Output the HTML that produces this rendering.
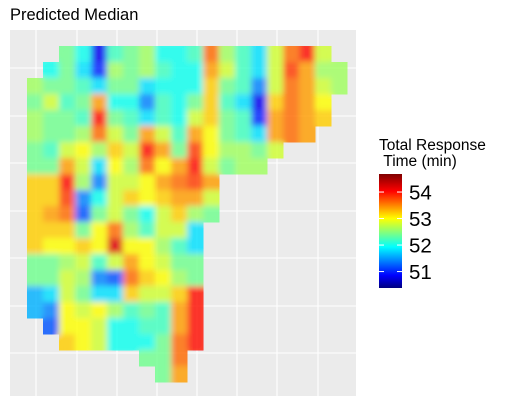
<!DOCTYPE html>
<html><head><meta charset="utf-8"><style>
body{margin:0;background:#fff;}
svg text{font-family:"Liberation Sans",Arial,sans-serif;}
</style></head><body>
<svg id="chart" width="507" height="407" xmlns="http://www.w3.org/2000/svg">
<rect width="507" height="407" fill="#fff"/>
<text x="10" y="20" font-size="16.5" fill="#000">Predicted Median</text>
<rect x="10" y="30" width="346" height="366" fill="#ebebeb"/>
<g id="grid"></g>
<defs>
<linearGradient id="jet" x1="0" y1="1" x2="0" y2="0">
<stop offset="0" stop-color="#00007f"/><stop offset="0.11" stop-color="#0000ff"/><stop offset="0.36" stop-color="#00ffff"/><stop offset="0.485" stop-color="#80ff80"/><stop offset="0.61" stop-color="#ffff00"/><stop offset="0.85" stop-color="#ff0000"/><stop offset="1" stop-color="#7f0000"/>
</linearGradient>
<filter id="smooth" x="-5%" y="-5%" width="110%" height="110%">
<feGaussianBlur stdDeviation="3"/>
<feComponentTransfer><feFuncA type="linear" slope="50" intercept="0"/></feComponentTransfer>
</filter>
<clipPath id="shape"></clipPath>
</defs>
<g clip-path="url(#shape)" opacity="0.82">
<g id="cells" filter="url(#smooth)" shape-rendering="crispEdges"></g>
</g>
<text x="379" y="150" font-size="15.5" fill="#000">Total Response</text>
<text x="379" y="166" font-size="15.5" fill="#000">&#160;Time (min)</text>
<rect x="379" y="174" width="23" height="114" fill="url(#jet)"/>
<g id="legend"></g>
</svg>
<script>
const vmin = 50.38, vmax = 54.68;
const legendTicks = [51, 52, 53, 54];
const gridX = [36, 77, 117, 157, 197, 237, 277, 318];
const gridY = [68, 116, 163, 211, 258, 306, 353];
// value codes: a=50.6, each letter +0.2
const codeBase = 50.6, codeStep = 0.2;
const rowStart = [2,1,0,0,0,0,0,0,0,0,0,0,0,0,0,0,0,1,2,7,8];
const rows = [
 "jhbijkhhipkiglprl",
 "hjgckjkihholiglqokk",
 "kjjigjjghhhnjielpolk",
 "jlijohheihjnigbnpom",
 "kjjirjigihlnjicopon",
 "kjjkpljoliomjigopo",
 "jilmknlrojqmkkjl",
 "jjolgmkpmorljkk",
 "nnrkellmopqo",
 "nnqehlnmnool",
 "nopdjljhlnkj",
 "nnnjmpkillg",
 "nmmnmsmmkig",
 "jjklilomljj",
 "jjlkedpnmkj",
 "fgljggnllnr",
 "femlmkijior",
 "dmmlhhiior",
 "nmlhhhjpr",
 "jjp",
 "jo"
];
const x0 = 27, y0 = 46, cw = 16, ch = 16;
const stops = [[0,[0,0,127]],[0.11,[0,0,255]],[0.36,[0,255,255]],[0.485,[128,255,128]],[0.61,[255,255,0]],[0.85,[255,0,0]],[1,[127,0,0]]];
function jet(v){
  let t = Math.max(0, Math.min(1, (v - vmin) / (vmax - vmin)));
  for (let i = 1; i < stops.length; i++) {
    if (t <= stops[i][0]) {
      const a = stops[i-1], b = stops[i], f = (t - a[0]) / (b[0] - a[0]);
      const c = a[1].map((x, k) => Math.round(x + (b[1][k] - x) * f));
      return `rgb(${c[0]},${c[1]},${c[2]})`;
    }
  }
  return 'rgb(127,0,0)';
}
const ns = 'http://www.w3.org/2000/svg';
const grid = document.getElementById('grid');
gridX.forEach(x => {
  const l = document.createElementNS(ns, 'line');
  l.setAttribute('x1', x); l.setAttribute('x2', x); l.setAttribute('y1', 30); l.setAttribute('y2', 396);
  l.setAttribute('stroke', '#fff'); l.setAttribute('stroke-width', 1.1);
  
  
  grid.appendChild(l);
});
gridY.forEach(y => {
  const l = document.createElementNS(ns, 'line');
  l.setAttribute('y1', y); l.setAttribute('y2', y); l.setAttribute('x1', 10); l.setAttribute('x2', 356);
  l.setAttribute('stroke', '#fff'); l.setAttribute('stroke-width', 1.1);
  
  
  grid.appendChild(l);
});
const cells = document.getElementById('cells');
const clip = document.getElementById('shape');
rows.forEach((row, r) => {
  for (let i = 0; i < row.length; i++) {
    const code = row[i];
    const v = codeBase + (code.charCodeAt(0) - 97) * codeStep;
    const c = rowStart[r] + i;
    const rect = document.createElementNS(ns, 'rect');
    rect.setAttribute('x', x0 + c * cw); rect.setAttribute('y', y0 + r * ch);
    rect.setAttribute('width', cw); rect.setAttribute('height', ch);
    rect.setAttribute('fill', jet(v));
    
    
    cells.appendChild(rect);
    const cr = document.createElementNS(ns, 'rect');
    cr.setAttribute('x', x0 + c * cw); cr.setAttribute('y', y0 + r * ch);
    cr.setAttribute('width', cw + 0.5); cr.setAttribute('height', ch + 0.5);
    clip.appendChild(cr);
  }
});
const leg = document.getElementById('legend');
const lyTop = 174, lyBot = 288;
legendTicks.forEach(t => {
  const y = lyBot - (t - vmin) / (vmax - vmin) * (lyBot - lyTop);
  [[379, 384], [397, 402]].forEach(p => {
    const l = document.createElementNS(ns, 'line');
    l.setAttribute('x1', p[0]); l.setAttribute('x2', p[1]); l.setAttribute('y1', y); l.setAttribute('y2', y);
    l.setAttribute('stroke', '#fff'); l.setAttribute('stroke-width', 1);
    
    
    leg.appendChild(l);
  });
  const tx = document.createElementNS(ns, 'text');
  tx.setAttribute('x', 409); tx.setAttribute('y', y + 7.5);
  tx.setAttribute('font-size', 20.5);
  tx.textContent = t;
  
  
  leg.appendChild(tx);
});
</script>
</body></html>
